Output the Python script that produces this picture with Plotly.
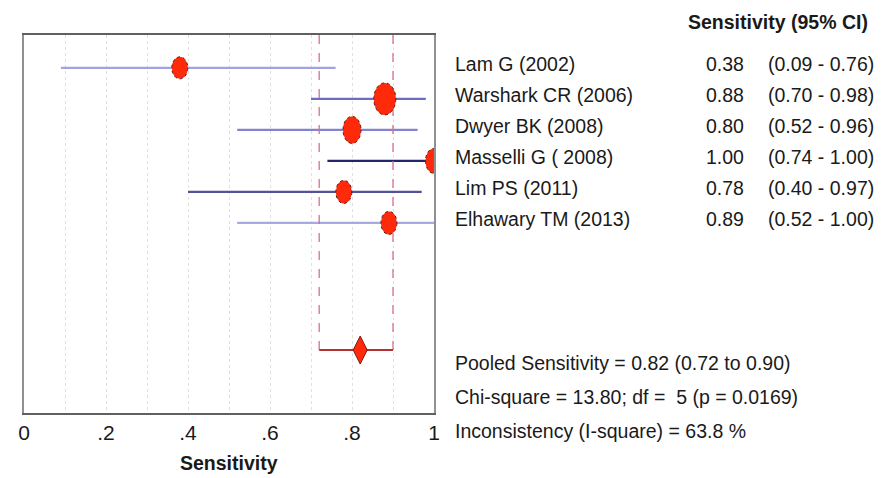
import plotly.graph_objects as go

# ---------------- data ----------------
studies = ["Lam G (2002)", "Warshark CR (2006)", "Dwyer BK (2008)",
           "Masselli G ( 2008)", "Lim PS (2011)", "Elhawary TM (2013)"]
sens = [0.38, 0.88, 0.80, 1.00, 0.78, 0.89]
ci_lo = [0.09, 0.70, 0.52, 0.74, 0.40, 0.52]
ci_hi = [0.76, 0.98, 0.96, 1.00, 0.97, 1.00]
pooled = 0.82
pooled_lo = 0.72
pooled_hi = 0.90
tick_vals = [0, 0.1, 0.2, 0.3, 0.4, 0.5, 0.6, 0.7, 0.8, 0.9, 1.0]
tick_text = ["0", "", ".2", "", ".4", "", ".6", "", ".8", "", "1"]
header = "Sensitivity (95% CI)"
x_title = "Sensitivity"
stats_lines = ["Pooled Sensitivity = 0.82 (0.72 to 0.90)",
               "Chi-square = 13.80; df =  5 (p = 0.0169)",
               "Inconsistency (I-square) = 63.8 %"]

# ---------------- styles ----------------
rows = list(range(1, len(studies) + 1))
pooled_row = 10.1
line_colors = ["#a2a2e2", "#6c6cc2", "#8484cc", "#24246e", "#525298", "#a8a8e2"]
marker_w = [16, 22, 18, 17, 16, 16]
marker_h = [22, 32, 27, 25, 23, 23]
FONT = "Liberation Sans, Arial, sans-serif"
TXT = "#1a1a1a"
FS = 19.5

fig = go.Figure()

# CI lines for each study
for i in range(len(studies)):
    fig.add_trace(go.Scatter(
        x=[ci_lo[i], ci_hi[i]], y=[rows[i], rows[i]], mode="lines",
        line=dict(color=line_colors[i], width=2.2), showlegend=False,
        hoverinfo="skip"))

# pooled CI dashed verticals
for v in (pooled_lo, pooled_hi):
    fig.add_trace(go.Scatter(
        x=[v, v], y=[-0.06, pooled_row], mode="lines",
        line=dict(color="#d8708a", width=1.3, dash="dash"),
        showlegend=False, hoverinfo="skip"))

# pooled horizontal line
fig.add_trace(go.Scatter(
    x=[pooled_lo, pooled_hi], y=[pooled_row, pooled_row], mode="lines",
    line=dict(color="#b43232", width=2), showlegend=False, hoverinfo="skip"))

# study point estimates (hover markers) + ellipse shapes anchored on the data
fig.add_trace(go.Scatter(
    x=sens, y=rows, mode="markers", text=studies,
    marker=dict(size=1, color="rgba(0,0,0,0)"), showlegend=False))
for i in range(len(studies)):
    fig.add_shape(type="circle", xref="x", yref="y",
                  xsizemode="pixel", ysizemode="pixel",
                  xanchor=sens[i], yanchor=rows[i],
                  x0=-marker_w[i] / 2, x1=marker_w[i] / 2,
                  y0=-marker_h[i] / 2, y1=marker_h[i] / 2,
                  fillcolor="#ff2a0a",
                  line=dict(color="#5a1a1a", width=1, dash="dot"),
                  layer="above")

# pooled diamond
fig.add_trace(go.Scatter(
    x=[pooled], y=[pooled_row], mode="markers",
    marker=dict(symbol="diamond-tall", size=20, color="#ff2a0a",
                line=dict(color="#7a1a1a", width=1)),
    showlegend=False))

# right-hand text
ann = []
ann.append(dict(x=870 / 888, y=1 - 22 / 478, xref="paper", yref="paper",
                text="<b>" + header + "</b>",
                xanchor="right", yanchor="middle", showarrow=False,
                font=dict(size=FS, family=FONT, color=TXT)))
for i in range(len(studies)):
    ann.append(dict(x=453 / 888, y=rows[i], xref="paper", yref="y", text=studies[i],
                    xanchor="left", yanchor="middle", showarrow=False, yshift=4,
                    font=dict(size=FS, family=FONT, color=TXT)))
    ann.append(dict(x=746 / 888, y=rows[i], xref="paper", yref="y", text=f"{sens[i]:.2f}",
                    xanchor="right", yanchor="middle", showarrow=False, yshift=4,
                    font=dict(size=FS, family=FONT, color=TXT)))
    ann.append(dict(x=766 / 888, y=rows[i], xref="paper", yref="y",
                    text=f"({ci_lo[i]:.2f} - {ci_hi[i]:.2f})",
                    xanchor="left", yanchor="middle", showarrow=False, yshift=4,
                    font=dict(size=FS, family=FONT, color=TXT)))
for j, s in enumerate(stats_lines):
    ann.append(dict(x=453 / 888, y=1 - (363 + 34 * j) / 478, xref="paper", yref="paper",
                    text=s, xanchor="left", yanchor="middle", showarrow=False,
                    font=dict(size=FS, family=FONT, color=TXT)))
# x-axis title
ann.append(dict(x=229 / 888, y=1 - 463 / 478, xref="paper", yref="paper",
                text="<b>" + x_title + "</b>", xanchor="center", yanchor="middle",
                showarrow=False, font=dict(size=FS, family=FONT, color=TXT)))

fig.update_layout(
    width=888, height=478,
    margin=dict(l=0, r=0, t=0, b=0),
    paper_bgcolor="white", plot_bgcolor="white",
    annotations=ann,
    xaxis=dict(domain=[24 / 888, 434 / 888], range=[0, 1],
               tickvals=tick_vals, ticktext=tick_text,
               showgrid=True, gridcolor="#e0e0e0", griddash="dot", gridwidth=1,
               zeroline=False, showline=True, linecolor="#606060", linewidth=1.5,
               mirror=True, ticks="", ticklabelstandoff=0, automargin=False,
               tickfont=dict(size=21, family=FONT, color=TXT)),
    yaxis=dict(domain=[1 - 413 / 478, 1 - 35 / 478], range=[12.13, -0.06],
               showgrid=False, zeroline=False, showticklabels=False, automargin=False,
               showline=True, linecolor="#909090", linewidth=1.5, mirror=True),
    font=dict(family=FONT),
    hovermode="closest",
)

fig.write_html("out.html", config={"displayModeBar": False},
               post_script="document.body.style.margin='0';"
                           "document.body.style.overflow='hidden';")
